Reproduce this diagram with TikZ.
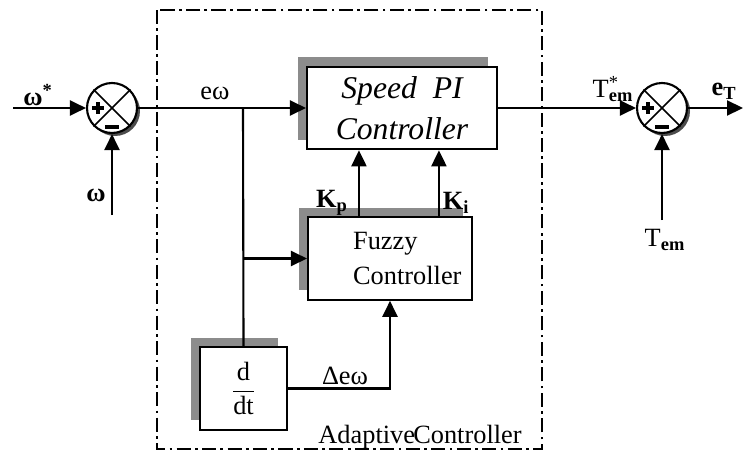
\documentclass[tikz,border=0pt]{standalone}
\usepackage{fontspec}
\setmainfont{Liberation Serif}
\usetikzlibrary{arrows.meta, positioning, shadows}
\tikzset{
  block/.style={
    draw=black,
    line width=1.2pt,
    fill=white,
    minimum height=1.65cm,
    align=center,
    inner sep=2pt,
    drop shadow={shadow xshift=-0.18cm, shadow yshift=0.19cm, fill=black!45, opacity=1}
  },
  sumnode/.style={
    circle,
    draw=black,
    line width=1.2pt,
    fill=white,
    minimum size=1cm,
    drop shadow={shadow xshift=0.06cm, shadow yshift=-0.06cm, fill=black!70, opacity=1}
  },
  arrow/.style={-{Triangle[length=3.2mm, width=3mm]}, line width=1.2pt},
  wire/.style={line width=1.2pt},
  frame/.style={draw=black, line width=1.2pt, dash pattern=on 8pt off 2.5pt on 1.5pt off 2.5pt},
  lbl/.style={font=\fontsize{15}{17}\selectfont}
}

\begin{document}
\begin{tikzpicture}[x=0.02cm, y=-0.02cm]
    \useasboundingbox (0,0) rectangle (746,453);
    % adaptive controller frame
    \draw[frame] (157,10) rectangle (542,449);
    \node[lbl, anchor=base] (adlbl) at (420,443) {Adaptive\kern-1pt Controller};

    % blocks
    \node[block, minimum width=3.8cm, font=\fontsize{18}{23}\selectfont\itshape] (speedpi) at (402,108) {Speed~~PI\\Controller};
    \node[block, minimum width=3.28cm] (fuzzy) at (390,258.5) {};
    \node[lbl, align=left, anchor=west] (fuzzytxt) at ([xshift=0.8cm]fuzzy.west) {Fuzzy\\[3pt]Controller};
    \node[block, minimum width=1.74cm, font=\fontsize{15}{17}\selectfont] (ddt) at (243.5,388.5) {$\displaystyle\frac{\mbox{d}}{\mbox{dt}}$};

    % summing junctions
    \node[sumnode] (sum1) at (112,108) {};
    \node[sumnode] (sum2) at (662,108) {};
    \foreach \s in {sum1, sum2} {
      \draw[wire, line width=0.9pt] (\s.north east) -- (\s.south west);
      \draw[wire, line width=0.9pt] (\s.north west) -- (\s.south east);
      \fill ([xshift=-0.28cm]\s.center) ++(-6,-2) rectangle ++(12,4);
      \fill ([xshift=-0.28cm]\s.center) ++(-2,-6) rectangle ++(4,12);
      \fill ([yshift=-0.38cm]\s.center) ++(-7,-1.8) rectangle ++(14,3.6);
    }

    % signals
    \coordinate (win) at (13,108);
    \coordinate (wfb) at (112,215);
    \coordinate (split) at (243,108);
    \coordinate (tfb) at (662,220);
    \coordinate (eout) at (743,108);

    \draw[arrow] (win) -- (sum1);
    \draw[arrow] (wfb) -- (sum1);
    \draw[arrow] (sum1) -- (speedpi);
    \draw[wire] (split) -- (ddt.north);
    \draw[arrow] (split |- fuzzy.west) -- (fuzzy.west);
    \draw[arrow] (ddt.east) -| (fuzzy.south);
    \draw[arrow] ([xshift=1.04cm]fuzzy.north west) -- ([xshift=1.04cm]fuzzy.north west |- speedpi.south);
    \draw[arrow] ([xshift=2.64cm]fuzzy.north west) -- ([xshift=2.64cm]fuzzy.north west |- speedpi.south);
    \draw[arrow] (speedpi) -- (sum2);
    \draw[arrow] (tfb) -- (sum2);
    \draw[arrow] (sum2) -- (eout);

    % labels
    \node[lbl, font=\fontsize{15}{17}\selectfont\bfseries] (wref) at (38,95) {ω\textsuperscript{*}};
    \node[lbl, font=\fontsize{15}{17}\selectfont\bfseries] (wmeas) at (96,195) {ω};
    \node[lbl] (ew) at (215,93) {eω};
    \node[lbl, font=\fontsize{15}{17}\selectfont\bfseries] (kp) at (332,203) {K\textsubscript{p}};
    \node[lbl, font=\fontsize{15}{17}\selectfont\bfseries] (ki) at (456,203) {K\textsubscript{i}};
    \node[lbl] (dew) at (345,376) {Δeω};
    \node[lbl, inner sep=1pt] (tref) at (613,89) {T\rlap{\textsuperscript{*}}\textsubscript{\bfseries em}};
    \node[lbl, font=\fontsize{15}{17}\selectfont\bfseries] (et) at (724,91) {e\textsubscript{T}};
    \node[lbl] (tmeas) at (665,240) {T\textsubscript{\bfseries em}};
\end{tikzpicture}
\end{document}
